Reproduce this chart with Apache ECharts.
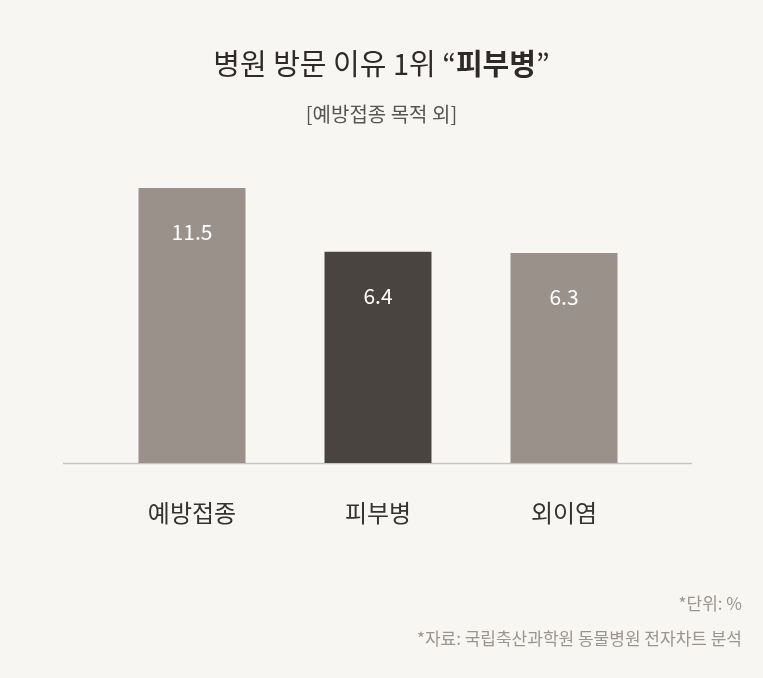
<!DOCTYPE html><html><head><meta charset="utf-8">
<script src="https://cdn.jsdelivr.net/npm/echarts@6/dist/echarts.min.js"></script>
<style>html,body{margin:0;background:#f8f6f2}#c{width:763px;height:678px}</style></head><body><div id="c"></div>
<script>
const categories=['예방접종','피부병','외이염'];
const values=[11.5,6.4,6.3];
const colors=['#9a918b','#4a4440','#9a918b'];
const F='"Noto Sans CJK KR", sans-serif';
const c=echarts.init(document.getElementById('c'));
c.setOption({
backgroundColor:'#f8f6f2',
title:[{text:'병원 방문 이유 1위 “{b|피부병}”',left:'center',top:44,textStyle:{fontFamily:F,fontSize:29,fontWeight:'normal',color:'#2e2a27',rich:{b:{fontFamily:F,fontSize:29,fontWeight:'bold',color:'#2e2a27'}}}},
{text:'[예방접종 목적 외]',left:'center',top:99,textStyle:{fontFamily:F,fontSize:20,fontWeight:'normal',color:'#555'}}],
grid:{left:99,width:558,top:150.5,bottom:215},
xAxis:{type:'category',data:categories,axisLine:{show:false},axisTick:{show:false},axisLabel:{fontFamily:F,fontSize:24,color:'#333',margin:38}},
yAxis:{type:'value',min:-10.5,max:14.5,startValue:-10.5,show:false},
graphic:[{type:'line',shape:{x1:63,y1:463.5,x2:692,y2:463.5},style:{stroke:'#c9c4bf',lineWidth:1.5}},
{type:'text',right:21,top:595,style:{text:'*단위: %',font:'17px '+F,fill:'#9a9590'}},
{type:'text',right:21,top:630,style:{text:'*자료: 국립축산과학원 동물병원 전자차트 분석',font:'17px '+F,fill:'#9a9590'}}],
series:[{type:'bar',barWidth:107,data:values.map((v,i)=>({value:v,itemStyle:{color:colors[i]}})),
label:{show:true,position:'insideTop',distance:34,color:'#fff',fontFamily:F,fontSize:21}}]
});
</script></body></html>
